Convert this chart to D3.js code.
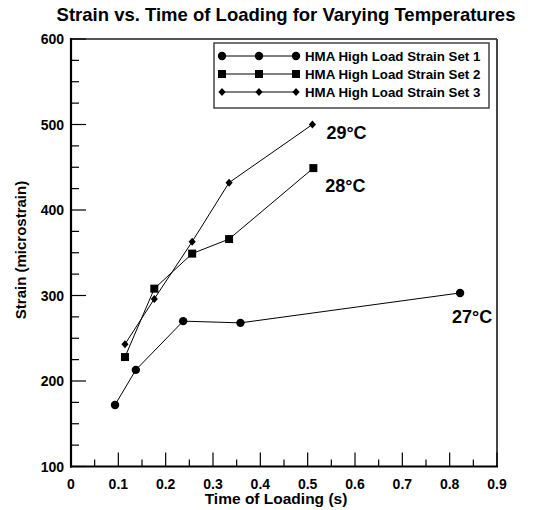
<!DOCTYPE html>
<html><head><meta charset="utf-8">
<script src="https://cdn.jsdelivr.net/npm/d3@7"></script>
<style>body{margin:0;background:#fff}svg{display:block;font-family:"Liberation Sans",Arial,sans-serif;font-weight:bold}</style>
</head><body><svg id="c" width="543" height="510"></svg>
<script>
const seriesNames = ["HMA High Load Strain Set 1","HMA High Load Strain Set 2","HMA High Load Strain Set 3"];
const set1X = [0.093,0.137,0.237,0.358,0.822];
const set1Y = [172,213,270,268,303];
const set2X = [0.114,0.176,0.256,0.334,0.512];
const set2Y = [228,308,349,366,449];
const set3X = [0.114,0.176,0.256,0.334,0.510];
const set3Y = [243,296,363,432,500];
const tempLabels = ["27°C","28°C","29°C"];
const xTicks = [0,0.1,0.2,0.3,0.4,0.5,0.6,0.7,0.8,0.9];
const yTicks = [100,200,300,400,500,600];

const svg = d3.select("#c");
const L=71,R=497,T=39,B=466.5;
const x = d3.scaleLinear().domain([0,0.9]).range([L,R]);
const y = d3.scaleLinear().domain([100,600]).range([B,T]);

svg.append("text").attr("x",286).attr("y",21).attr("text-anchor","middle").attr("font-size",18.5).text("Strain vs. Time of Loading for Varying Temperatures");

// frame
svg.append("line").attr("x1",L).attr("x2",R).attr("y1",T).attr("y2",T).attr("stroke","#555").attr("stroke-width",2);
svg.append("line").attr("x1",R).attr("x2",R).attr("y1",T).attr("y2",B).attr("stroke","#444").attr("stroke-width",2);

// ticks inward
const xMinor = d3.range(0,0.901,0.05);
svg.append("g").selectAll("line").data(xMinor).join("line")
  .attr("x1",d=>x(d)).attr("x2",d=>x(d)).attr("y1",B)
  .attr("y2",d=>B-(Math.abs(d*10-Math.round(d*10))<1e-6?14:7)).attr("stroke","#000").attr("stroke-width",1.2);
const yMinor = d3.range(100,601,25);
svg.append("g").selectAll("line").data(yMinor).join("line")
  .attr("y1",d=>y(d)).attr("y2",d=>y(d)).attr("x1",L)
  .attr("x2",d=>L+(d%100===0?15:8)).attr("stroke","#000").attr("stroke-width",1.2);

svg.append("line").attr("x1",L).attr("x2",L).attr("y1",T-1).attr("y2",B+1).attr("stroke","#000").attr("stroke-width",2.2);
svg.append("line").attr("x1",L-1).attr("x2",R+1).attr("y1",B).attr("y2",B).attr("stroke","#000").attr("stroke-width",2.2);

svg.append("g").selectAll("text").data(xTicks).join("text")
  .attr("x",d=>x(d)).attr("y",B+22).attr("text-anchor","middle").attr("font-size",14).text(d=>d===0?"0":d3.format(".1f")(d));
svg.append("g").selectAll("text").data(yTicks).join("text")
  .attr("x",L-7).attr("y",d=>y(d)+5).attr("text-anchor","end").attr("font-size",14).text(d=>d);

svg.append("text").attr("x",276).attr("y",504).attr("text-anchor","middle").attr("font-size",15.5).text("Time of Loading (s)");
svg.append("text").attr("transform","translate(26,250) rotate(-90)").attr("text-anchor","middle").attr("font-size",15).text("Strain (microstrain)");

const series = [
  {xs:set1X,ys:set1Y,shape:"circle"},
  {xs:set2X,ys:set2Y,shape:"square"},
  {xs:set3X,ys:set3Y,shape:"diamond"}
];
function marker(g,shape,cx,cy){
  if(shape==="circle") g.append("circle").attr("cx",cx).attr("cy",cy).attr("r",4.2).attr("fill","#000");
  else if(shape==="square") g.append("rect").attr("x",cx-4).attr("y",cy-4).attr("width",8).attr("height",8).attr("fill","#000");
  else g.append("path").attr("d",`M${cx},${cy-4}L${cx+3.6},${cy}L${cx},${cy+4}L${cx-3.6},${cy}Z`).attr("fill","#000");
}
const line = d3.line();
series.forEach(s=>{
  const pts = s.xs.map((v,i)=>[x(v),y(s.ys[i])]);
  svg.append("path").attr("d",line(pts)).attr("fill","none").attr("stroke","#000").attr("stroke-width",1);
  const g = svg.append("g");
  pts.forEach(p=>marker(g,s.shape,p[0],p[1]));
});

// temperature labels
svg.append("text").attr("x",452).attr("y",323).attr("font-size",18).text(tempLabels[0]);
svg.append("text").attr("x",x(set2X[4])+12).attr("y",y(set2Y[4])+24).attr("font-size",18).text(tempLabels[1]);
svg.append("text").attr("x",x(set3X[4])+14).attr("y",y(set3Y[4])+14).attr("font-size",18).text(tempLabels[2]);

// legend
const lg = svg.append("g");
lg.append("rect").attr("x",214).attr("y",43).attr("width",275).attr("height",65).attr("fill","#fff").attr("stroke","#444").attr("stroke-width",1.5);
seriesNames.forEach((n,i)=>{
  const cy = 56+i*18;
  lg.append("line").attr("x1",222).attr("x2",296).attr("y1",cy).attr("y2",cy).attr("stroke","#000").attr("stroke-width",1);
  [222,259,296].forEach(cx=>marker(lg,series[i].shape,cx,cy));
  lg.append("text").attr("x",305).attr("y",cy+5).attr("font-size",13.3).text(n);
});
</script></body></html>
